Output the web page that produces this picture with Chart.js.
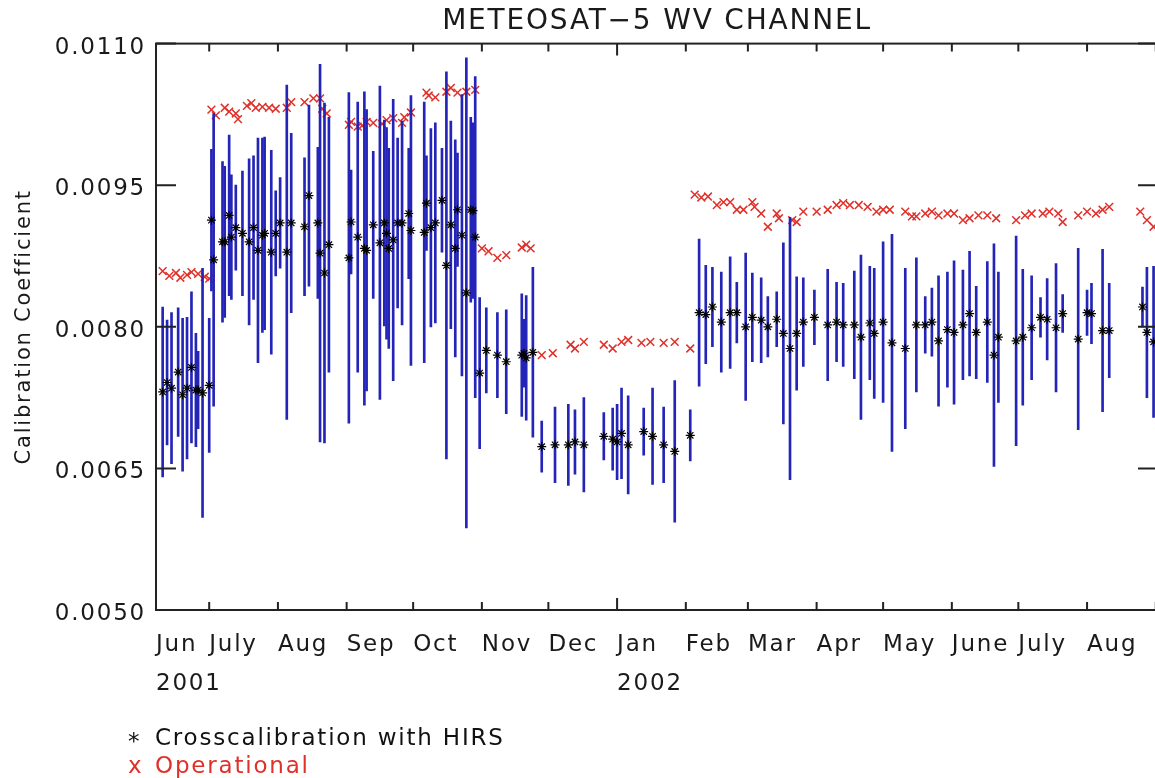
<!DOCTYPE html>
<html>
<head>
<meta charset="utf-8">
<title>METEOSAT-5 WV channel</title>
<script src="https://cdn.jsdelivr.net/npm/chart.js@4.4.0/dist/chart.umd.min.js"></script>
<style>
  body { margin: 0; background: #fff; overflow: hidden; }
  #wrap { position: relative; width: 1155px; height: 778px; overflow: hidden; }
  canvas { display: block; }
  .legend { position: absolute; left: 128px; font: 23px 'DejaVu Sans', sans-serif; letter-spacing: 1.8px;
            line-height: 28px; white-space: nowrap; }
  .legend span { display: inline-block; width: 27px; position: relative; }
</style>
</head>
<body>
<div id="wrap">
  <canvas id="meteosat" width="1170" height="778"></canvas>
  <div class="legend" style="top:723px;color:#111"><span style="top:4px">*</span>Crosscalibration with HIRS</div>
  <div class="legend" style="top:751px;color:#e0302a"><span>x</span>Operational</div>
</div>
<script>
// crosscalibration with HIRS: date, coefficient, error bar half width
const hirsDates = [
  '2001-06-10', '2001-06-12', '2001-06-14', '2001-06-17', '2001-06-19', '2001-06-21', '2001-06-23',
  '2001-06-25', '2001-06-26', '2001-06-28', '2001-07-01', '2001-07-02', '2001-07-03', '2001-07-07',
  '2001-07-08', '2001-07-10', '2001-07-11', '2001-07-13', '2001-07-16', '2001-07-19', '2001-07-21',
  '2001-07-23', '2001-07-25', '2001-07-26', '2001-07-29', '2001-07-31', '2001-08-02', '2001-08-05',
  '2001-08-07', '2001-08-13', '2001-08-15', '2001-08-19', '2001-08-20', '2001-08-22', '2001-08-24',
  '2001-09-02', '2001-09-03', '2001-09-06', '2001-09-09', '2001-09-10', '2001-09-13', '2001-09-16',
  '2001-09-18', '2001-09-19', '2001-09-20', '2001-09-22', '2001-09-24', '2001-09-26', '2001-09-29',
  '2001-09-30', '2001-10-06', '2001-10-07', '2001-10-09', '2001-10-11', '2001-10-14', '2001-10-16',
  '2001-10-18', '2001-10-20', '2001-10-21', '2001-10-23', '2001-10-25', '2001-10-27', '2001-10-28',
  '2001-10-29', '2001-10-31', '2001-11-03', '2001-11-08', '2001-11-12', '2001-11-19', '2001-11-20',
  '2001-11-21', '2001-11-24', '2001-11-28', '2001-12-04', '2001-12-10', '2001-12-13', '2001-12-17',
  '2001-12-26', '2001-12-30', '2002-01-01', '2002-01-03', '2002-01-06', '2002-01-13', '2002-01-17',
  '2002-01-22', '2002-01-27', '2002-02-03', '2002-02-07', '2002-02-10', '2002-02-13', '2002-02-17',
  '2002-02-21', '2002-02-24', '2002-02-28', '2002-03-03', '2002-03-07', '2002-03-10', '2002-03-14',
  '2002-03-17', '2002-03-20', '2002-03-23', '2002-03-26', '2002-03-31', '2002-04-06', '2002-04-10',
  '2002-04-13', '2002-04-18', '2002-04-21', '2002-04-25', '2002-04-27', '2002-05-01', '2002-05-05',
  '2002-05-11', '2002-05-16', '2002-05-20', '2002-05-23', '2002-05-26', '2002-05-30', '2002-06-02',
  '2002-06-06', '2002-06-09', '2002-06-12', '2002-06-17', '2002-06-20', '2002-06-22', '2002-06-30',
  '2002-07-03', '2002-07-07', '2002-07-11', '2002-07-14', '2002-07-18', '2002-07-21', '2002-07-28',
  '2002-08-01', '2002-08-03', '2002-08-08', '2002-08-11', '2002-08-26', '2002-08-28', '2002-08-31'
];
const hirsValues = [
  0.00731, 0.00741, 0.00735, 0.00752, 0.00728, 0.00735, 0.00757,
  0.00733, 0.00733, 0.00730, 0.00738, 0.00913, 0.00871, 0.00890,
  0.00890, 0.00918, 0.00895, 0.00905, 0.00899, 0.00890, 0.00905,
  0.00881, 0.00897, 0.00899, 0.00879, 0.00899, 0.00910, 0.00879,
  0.00910, 0.00906, 0.00939, 0.00910, 0.00878, 0.00857, 0.00887,
  0.00873, 0.00911, 0.00895, 0.00883, 0.00881, 0.00908, 0.00889,
  0.00910, 0.00899, 0.00883, 0.00892, 0.00910, 0.00910, 0.00920,
  0.00902, 0.00900, 0.00931, 0.00905, 0.00910, 0.00934, 0.00865,
  0.00908, 0.00883, 0.00924, 0.00897, 0.00836, 0.00924, 0.00923,
  0.00895, 0.00751, 0.00775, 0.00770, 0.00763, 0.00770, 0.00772,
  0.00767, 0.00773, 0.00673, 0.00675, 0.00675, 0.00678, 0.00675,
  0.00684, 0.00681, 0.00678, 0.00687, 0.00675, 0.00689, 0.00684,
  0.00675, 0.00668, 0.00685, 0.00815, 0.00813, 0.00821, 0.00805,
  0.00815, 0.00815, 0.00800, 0.00810, 0.00807, 0.00800, 0.00808,
  0.00793, 0.00777, 0.00793, 0.00805, 0.00810, 0.00802, 0.00805,
  0.00802, 0.00802, 0.00789, 0.00804, 0.00793, 0.00805, 0.00783,
  0.00777, 0.00802, 0.00802, 0.00805, 0.00785, 0.00797, 0.00794,
  0.00802, 0.00814, 0.00794, 0.00805, 0.00770, 0.00789, 0.00785,
  0.00789, 0.00799, 0.00810, 0.00808, 0.00799, 0.00814, 0.00787,
  0.00815, 0.00814, 0.00796, 0.00796, 0.00821, 0.00794, 0.00784
];
const hirsErrors = [
  0.00090, 0.00066, 0.00080, 0.00068, 0.00081, 0.00075, 0.00080,
  0.00060, 0.00041, 0.00132, 0.00071, 0.00075, 0.00155, 0.00085,
  0.00080, 0.00085, 0.00066, 0.00045, 0.00066, 0.00088, 0.00076,
  0.00119, 0.00103, 0.00102, 0.00108, 0.00045, 0.00048, 0.00177,
  0.00095, 0.00073, 0.00096, 0.00080, 0.00200, 0.00180, 0.00135,
  0.00175, 0.00055, 0.00143, 0.00166, 0.00149, 0.00078, 0.00166,
  0.00109, 0.00112, 0.00106, 0.00149, 0.00090, 0.00108, 0.00069,
  0.00143, 0.00138, 0.00050, 0.00105, 0.00106, 0.00055, 0.00205,
  0.00110, 0.00115, 0.00060, 0.00149, 0.00249, 0.00098, 0.00093,
  0.00170, 0.00080, 0.00045, 0.00045, 0.00055, 0.00065, 0.00036,
  0.00066, 0.00090, 0.00027, 0.00040, 0.00043, 0.00034, 0.00050,
  0.00025, 0.00033, 0.00040, 0.00048, 0.00052, 0.00025, 0.00051,
  0.00040, 0.00075, 0.00027, 0.00078, 0.00052, 0.00042, 0.00053,
  0.00059, 0.00032, 0.00078, 0.00047, 0.00045, 0.00032, 0.00029,
  0.00096, 0.00139, 0.00060, 0.00047, 0.00029, 0.00059, 0.00042,
  0.00044, 0.00057, 0.00087, 0.00060, 0.00069, 0.00085, 0.00115,
  0.00085, 0.00071, 0.00030, 0.00036, 0.00069, 0.00061, 0.00076,
  0.00058, 0.00066, 0.00049, 0.00064, 0.00118, 0.00069, 0.00111,
  0.00072, 0.00055, 0.00021, 0.00043, 0.00068, 0.00020, 0.00096,
  0.00024, 0.00032, 0.00086, 0.00050, 0.00021, 0.00069, 0.00080
];

// operational coefficients
const opDates = [
  '2001-06-10', '2001-06-13', '2001-06-16', '2001-06-18', '2001-06-21', '2001-06-23', '2001-06-26',
  '2001-06-29', '2001-07-01', '2001-07-02', '2001-07-04', '2001-07-08', '2001-07-10', '2001-07-13',
  '2001-07-14', '2001-07-18', '2001-07-20', '2001-07-22', '2001-07-25', '2001-07-28', '2001-07-31',
  '2001-08-05', '2001-08-07', '2001-08-13', '2001-08-17', '2001-08-20', '2001-08-21', '2001-08-23',
  '2001-09-02', '2001-09-03', '2001-09-06', '2001-09-08', '2001-09-10', '2001-09-13', '2001-09-17',
  '2001-09-19', '2001-09-22', '2001-09-26', '2001-09-27', '2001-09-30', '2001-10-07', '2001-10-08',
  '2001-10-11', '2001-10-16', '2001-10-18', '2001-10-21', '2001-10-25', '2001-10-29', '2001-11-01',
  '2001-11-04', '2001-11-08', '2001-11-12', '2001-11-19', '2001-11-21', '2001-11-23', '2001-11-28',
  '2001-12-03', '2001-12-11', '2001-12-13', '2001-12-17', '2001-12-26', '2001-12-30', '2002-01-03',
  '2002-01-06', '2002-01-12', '2002-01-16', '2002-01-22', '2002-01-27', '2002-02-03', '2002-02-05',
  '2002-02-08', '2002-02-11', '2002-02-15', '2002-02-18', '2002-02-21', '2002-02-24', '2002-02-27',
  '2002-03-03', '2002-03-04', '2002-03-07', '2002-03-10', '2002-03-14', '2002-03-15', '2002-03-21',
  '2002-03-23', '2002-03-26', '2002-04-01', '2002-04-06', '2002-04-10', '2002-04-13', '2002-04-16',
  '2002-04-20', '2002-04-24', '2002-04-28', '2002-05-01', '2002-05-04', '2002-05-11', '2002-05-14',
  '2002-05-16', '2002-05-20', '2002-05-23', '2002-05-26', '2002-05-30', '2002-06-02', '2002-06-06',
  '2002-06-09', '2002-06-13', '2002-06-17', '2002-06-21', '2002-06-30', '2002-07-04', '2002-07-07',
  '2002-07-12', '2002-07-15', '2002-07-19', '2002-07-21', '2002-07-28', '2002-08-01', '2002-08-05',
  '2002-08-08', '2002-08-11', '2002-08-25', '2002-08-28', '2002-08-31'
];
const opValues = [
  0.00859, 0.00854, 0.00857, 0.00852, 0.00855, 0.00858, 0.00856,
  0.00853, 0.00851, 0.01030, 0.01024, 0.01032, 0.01028, 0.01026,
  0.01020, 0.01034, 0.01037, 0.01032, 0.01033, 0.01032, 0.01031,
  0.01032, 0.01038, 0.01038, 0.01042, 0.01042, 0.01031, 0.01026,
  0.01014, 0.01017, 0.01012, 0.01013, 0.01017, 0.01016, 0.01015,
  0.01019, 0.01021, 0.01016, 0.01022, 0.01027, 0.01048, 0.01045,
  0.01043, 0.01049, 0.01053, 0.01048, 0.01049, 0.01051, 0.00883,
  0.00880, 0.00873, 0.00876, 0.00884, 0.00887, 0.00883, 0.00770,
  0.00772, 0.00781, 0.00777, 0.00784, 0.00781, 0.00777, 0.00784,
  0.00786, 0.00783, 0.00784, 0.00783, 0.00784, 0.00777, 0.00940,
  0.00937, 0.00938, 0.00929, 0.00932, 0.00932, 0.00924, 0.00924,
  0.00932, 0.00927, 0.00920, 0.00906, 0.00920, 0.00915, 0.00913,
  0.00911, 0.00922, 0.00922, 0.00924, 0.00929, 0.00931, 0.00929,
  0.00929, 0.00927, 0.00922, 0.00924, 0.00924, 0.00922, 0.00917,
  0.00917, 0.00920, 0.00922, 0.00918, 0.00920, 0.00920, 0.00913,
  0.00915, 0.00918, 0.00918, 0.00915, 0.00913, 0.00918, 0.00920,
  0.00920, 0.00922, 0.00920, 0.00911, 0.00918, 0.00922, 0.00920,
  0.00924, 0.00927, 0.00922, 0.00913, 0.00906
];

// month ticks along the date axis
const xStart = '2001-06-07';
const xEnd = '2002-09-02';
const tickDates = [
  xStart, '2001-07-01', '2001-08-01', '2001-09-01', '2001-10-01', '2001-11-01', '2001-12-01',
  '2002-01-01', '2002-02-01', '2002-03-01', '2002-04-01', '2002-05-01', '2002-06-01', '2002-07-01',
  '2002-08-01', '2002-09-01'
];
const tickMonths = ['Jun', 'July', 'Aug', 'Sep', 'Oct', 'Nov', 'Dec', 'Jan', 'Feb', 'Mar', 'Apr', 'May',
  'June', 'July', 'Aug', ''];
const tickYears = ['2001', '', '', '', '', '', '', '2002', '', '', '', '', '', '', '', ''];

const day0 = Date.parse('2001-06-01');
const toDay = s => (Date.parse(s) - day0) / 864e5;

const ink = '#1a1a1a';
const red = '#e0302a';
const blue = '#2424b8';
const font = { family: "'DejaVu Sans', sans-serif", size: 23, weight: 'normal' };

// the old plot font is wide, so open the letters up a little
const spacing = {
  id: 'spacing',
  beforeUpdate(chart) { chart.ctx.letterSpacing = '1.8px'; },
  beforeDraw(chart) { chart.ctx.letterSpacing = '1.8px'; }
};

// box round the plot with inward ticks on all four sides
const frame = {
  id: 'frame',
  afterDatasetsDraw(chart) {
    const { ctx, chartArea: a, scales: { x, y } } = chart;
    ctx.save();
    ctx.strokeStyle = '#222';
    ctx.lineWidth = 2;
    ctx.strokeRect(a.left, a.top, a.right - a.left, a.bottom - a.top);
    ctx.beginPath();
    x.ticks.forEach((t, i) => {
      const px = x.getPixelForValue(t.value);
      const len = i > 0 && tickYears[i] ? 12 : 8;
      ctx.moveTo(px, a.bottom); ctx.lineTo(px, a.bottom - len);
      ctx.moveTo(px, a.top); ctx.lineTo(px, a.top + len);
    });
    y.ticks.forEach(t => {
      const py = y.getPixelForValue(t.value);
      ctx.moveTo(a.left, py); ctx.lineTo(a.left + 20, py);
      ctx.moveTo(a.right, py); ctx.lineTo(a.right - 20, py);
    });
    ctx.stroke();
    ctx.restore();
  }
};

new Chart(document.getElementById('meteosat'), {
  type: 'scatter',
  data: {
    datasets: [
      {
        type: 'scatter',
        label: 'Crosscalibration with HIRS',
        data: hirsDates.map((d, i) => ({ x: toDay(d), y: hirsValues[i] })),
        pointStyle: 'star',
        radius: 4.5,
        borderColor: '#000',
        backgroundColor: '#000',
        borderWidth: 1.2,
        order: 0
      },
      {
        type: 'bar',
        label: 'HIRS error',
        data: hirsDates.map((d, i) => ({
          x: toDay(d),
          y: [hirsValues[i] - hirsErrors[i], hirsValues[i] + hirsErrors[i]]
        })),
        backgroundColor: blue,
        borderWidth: 0,
        barThickness: 2,
        order: 1
      },
      {
        type: 'scatter',
        label: 'Operational',
        data: opDates.map((d, i) => ({ x: toDay(d), y: opValues[i] })),
        pointStyle: 'crossRot',
        radius: 5.5,
        borderColor: red,
        borderWidth: 1.5,
        order: 2
      }
    ]
  },
  options: {
    responsive: false,
    animation: false,
    events: [],
    devicePixelRatio: 1,
    layout: { padding: { right: 12 } },
    plugins: {
      legend: { display: false },
      tooltip: { enabled: false },
      title: {
        display: true,
        text: 'METEOSAT−5 WV CHANNEL',
        color: ink,
        fullSize: false,
        font: { ...font, size: 28 },
        padding: { top: 5, bottom: 5 }
      }
    },
    scales: {
      x: {
        type: 'linear',
        offset: false,
        min: toDay(xStart),
        max: toDay(xEnd),
        grid: { display: false, offset: false },
        border: { display: false },
        afterBuildTicks: s => { s.ticks = tickDates.map(d => ({ value: toDay(d) })); },
        afterFit: s => { s.height = 168; },
        ticks: {
          autoSkip: false,
          maxRotation: 0,
          align: 'start',
          padding: 7,
          color: ink,
          font: { ...font, lineHeight: 1.72 },
          callback: (v, i) => tickYears[i] ? [tickMonths[i], tickYears[i]] : tickMonths[i]
        }
      },
      y: {
        min: 0.005,
        max: 0.011,
        grid: { display: false },
        border: { display: false },
        afterFit: s => { s.width = 156; },
        title: {
          display: true,
          text: 'Calibration Coefficient',
          color: ink,
          font: { ...font, size: 21 },
          padding: { top: 12, bottom: 0 }
        },
        ticks: {
          stepSize: 0.0015,
          padding: 2,
          labelOffset: 4,
          color: ink,
          font,
          callback: v => v.toFixed(4)
        }
      }
    }
  },
  plugins: [spacing, frame]
});
</script>
</body>
</html>
